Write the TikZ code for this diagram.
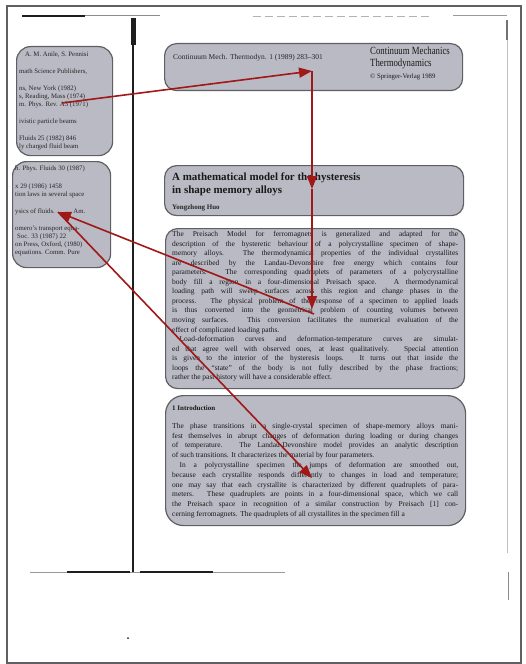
\documentclass[tikz,border=0pt]{standalone}
\usepackage{fontspec}
\setmainfont{Liberation Serif}
\newfontfamily\narrowserif[FakeStretch=0.8]{Liberation Serif}
\usetikzlibrary{arrows.meta, positioning}
\definecolor{boxgrey}{RGB}{186,186,196}
\definecolor{boxline}{RGB}{95,95,100}
\definecolor{linkred}{RGB}{160,24,24}
\definecolor{scan}{RGB}{30,30,30}
\newcommand{\seriesfont}{\narrowserif\fontsize{11}{15}\selectfont}
\tolerance=9999
\hyphenpenalty=10000

\begin{document}
\begin{tikzpicture}[x=1bp, y=-1bp,
  panel/.style={draw=boxline, fill=boxgrey, line width=1.2bp, rounded corners=12bp, anchor=north west, inner sep=0pt},
  link/.style={draw=linkred, line width=1.6bp, -{Triangle[length=13bp,width=10bp]}},
  body/.style={anchor=north west, inner sep=0pt, text=black!90, text width=286bp, align=justify},
  refs/.style={anchor=north west, inner sep=0pt, text=black!85, align=left, font=\fontsize{6.8}{8}\selectfont}]
\useasboundingbox (0,0) rectangle (526,664);
\draw[boxline, line width=1.6bp] (7,6) rectangle (521,663);

\draw[scan, line width=1.8bp] (22,16) -- (85,16);
\draw[black!45, line width=1bp] (85,16) -- (160,16);
\draw[black!30, line width=0.8bp, dash pattern=on 8bp off 4bp] (253,16) -- (430,16);
\draw[black!40, line width=1bp] (453,16) -- (507,16);
\draw[scan, line width=5bp] (133,18) -- (133,45);
\draw[scan, line width=2.5bp] (133,45) -- (133,572);
\draw[black!40, line width=1bp] (30,572) -- (285,572);
\draw[scan, line width=1.6bp] (67,572) -- (130,572);
\draw[scan, line width=1.4bp] (140,572) -- (213,572);
\draw[black!55, line width=1.2bp] (507,20) -- (507,40);
\draw[black!25, line width=0.8bp] (507,40) -- (507,553);
\draw[black!45, line width=0.8bp] (508,572) -- (508,600);
\fill[scan] (128,638) circle (1bp);

\node[panel, minimum width=298bp, minimum height=47bp] (head) at (164,43) {};
\node[panel, minimum width=299bp, minimum height=50bp] (title) at (164,165) {};
\node[panel, minimum width=299bp, minimum height=160bp] (abst) at (165,228) {};
\node[panel, minimum width=300bp, minimum height=130bp, rounded corners=18bp] (intro) at (165,395) {};
\node[panel, minimum width=96bp, minimum height=109bp, rounded corners=14bp] (refA) at (16,46) {};
\node[panel, minimum width=98bp, minimum height=106bp, rounded corners=14bp] (refB) at (12,161) {};

\node[anchor=base west, inner sep=0pt, text=black!85, font=\fontsize{7.5}{9}\selectfont] (journal) at (173,60) {Continuum Mech. Thermodyn. 1 (1989) 283--301};
\node[anchor=north west, inner sep=0pt, align=left, text=black!90] (series) at (370,47) {\seriesfont Continuum Mechanics\\ \seriesfont Thermodynamics\\[0bp] \fontsize{6.8}{8}\selectfont \textcopyright{} Springer-Verlag 1989};
\node[anchor=north west, inner sep=0pt, align=left, text=black!90, font=\fontsize{11}{12.5}\selectfont\bfseries] (paper) at (172,173) {A mathematical model for the hysteresis\\ in shape memory alloys};
\node[anchor=base west, inner sep=0pt, text=black!85, font=\fontsize{7}{8}\selectfont\bfseries] (author) at (172,209) {Yongzhong Huo};

\node[body, font=\fontsize{7.5}{9.6}\selectfont] (abstract) at (172,231) {The Preisach Model for ferromagnets is generalized and adapted for the\linebreak
description of the hysteretic behaviour of a polycrystalline specimen of shape-\linebreak
memory alloys. The thermodynamical properties of the individual crystallites\linebreak
are described by the Landau-Devonshire free energy which contains four\linebreak
parameters. The corresponding quadruplets of parameters of a polycrystalline\linebreak
body fill a region in a four-dimensional Preisach space. A thermodynamical\linebreak
loading path will sweep surfaces across this region and change phases in the\linebreak
process. The physical problem of the response of a specimen to applied loads\linebreak
is thus converted into the geometrical problem of counting volumes between\linebreak
moving surfaces. This conversion facilitates the numerical evaluation of the\linebreak
effect of complicated loading paths.\par
\hspace*{1em}Load-deformation curves and deformation-temperature curves are simulat-\linebreak
ed that agree well with observed ones, at least qualitatively. Special attention\linebreak
is given to the interior of the hysteresis loops. It turns out that inside the\linebreak
loops the ``state'' of the body is not fully described by the phase fractions;\linebreak
rather the past history will have a considerable effect.};

\node[anchor=base west, inner sep=0pt, text=black!90, font=\fontsize{7}{8}\selectfont\bfseries] (section) at (172,410) {1 Introduction};
\node[body, font=\fontsize{7.5}{9.8}\selectfont] (introtext) at (172,423) {The phase transitions in a single-crystal specimen of shape-memory alloys mani-\linebreak
fest themselves in abrupt changes of deformation during loading or during changes\linebreak
of temperature. The Landau-Devonshire model provides an analytic description\linebreak
of such transitions. It characterizes the material by four parameters.\par
\hspace*{1em}In a polycrystalline specimen the jumps of deformation are smoothed out,\linebreak
because each crystallite responds differently to changes in load and temperature;\linebreak
one may say that each crystallite is characterized by different quadruplets of para-\linebreak
meters. These quadruplets are points in a four-dimensional space, which we call\linebreak
the Preisach space in recognition of a similar construction by Preisach [1] con-\linebreak
cerning ferromagnets. The quadruplets of all crystallites in the specimen fill a};

\node[refs] (refAtext) at (19,52) {\hspace*{6bp}A. M. Anile, S. Pennisi\\[9bp]
  math Science Publishers,\\[9bp]
  ns, New York (1982)\\
  s, Reading, Mass (1974)\\
  m. Phys. Rev. A3 (1971)\\[9bp]
  ivistic particle beams\\[9bp]
  Fluids 25 (1982) 846\\
  ly charged fluid beam};
\node[refs] (refBtext) at (15,166) {h. Phys. Fluids 30 (1987)\\[10bp]
  x 29 (1986) 1458\\
  tion laws in several space\\[9bp]
  ysics of fluids. \hspace{14bp} Am.\\[9bp]
  omero's transport equa-\\
  \hspace*{2bp}Soc. 33 (1987) 22\\
  on Press, Oxford, (1980)\\
  equations. Comm. Pure};

\coordinate (refA-pt) at (62,103);
\coordinate (head-pt) at (312,71);
\coordinate (title-pt) at (312,189);
\coordinate (abst-pt) at (312,309);
\coordinate (abst-src) at (314,314);
\coordinate (refB-pt) at (58,212);
\coordinate (intro-pt) at (312,478);

\draw[link] (refA-pt) -- (head-pt);
\draw[link] (head-pt) -- (title-pt);
\draw[link] (title-pt) -- (abst-pt);
\draw[link] (abst-src) -- (refB-pt);
\draw[link] (refB-pt) -- (intro-pt);
\end{tikzpicture}
\end{document}
